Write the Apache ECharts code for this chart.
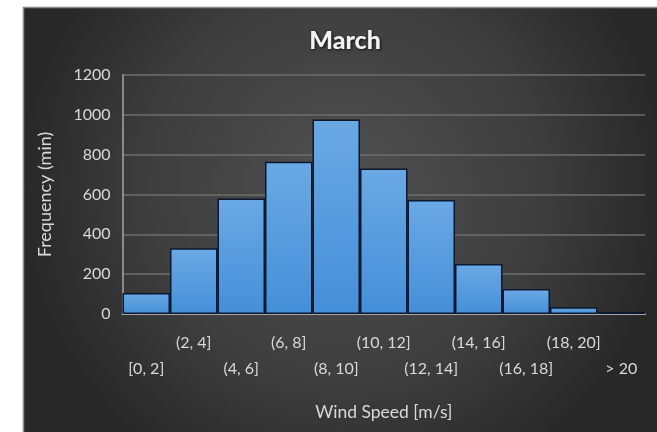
<!DOCTYPE html>
<html><head><meta charset="utf-8">
<script src="https://cdn.jsdelivr.net/npm/echarts@6/dist/echarts.min.js"></script>
<style>html,body{margin:0;padding:0;background:#fff;}#c{width:657px;height:432px;}</style>
</head><body><div id="c"></div>
<script>
const categories = ['[0, 2]','(2, 4]','(4, 6]','(6, 8]','(8, 10]','(10, 12]','(12, 14]','(14, 16]','(16, 18]','(18, 20]','> 20'];
const frequency = [105, 330, 580, 765, 977, 730, 572, 251, 125, 34, 10];
const yTicks = {min: 0, max: 1200, interval: 200};
const titleText = 'March';
const xName = 'Wind Speed [m/s]';
const yName = 'Frequency (min)';

const chart = echarts.init(document.getElementById('c'), null, {renderer: 'canvas'});
const font = 'Lato, "Open Sans", sans-serif';
chart.setOption({
  animation: false,
  graphic: [{
    type: 'rect', z: -10, silent: true,
    shape: {x: 23.5, y: 7.5, width: 640, height: 430},
    style: {
      fill: {type: 'radial', x: 0.5, y: 0.42, r: 0.75,
        colorStops: [{offset: 0, color: '#505050'}, {offset: 0.6, color: '#3e3e3e'}, {offset: 1, color: '#282828'}]},
      stroke: '#8a8a8a', lineWidth: 1.5
    }
  }],
  title: {
    text: titleText, left: 340, top: 23, textAlign: 'center',
    textStyle: {color: '#f2f2f2', fontFamily: font, fontWeight: 900, fontSize: 25,
      textShadowColor: 'rgba(0,0,0,0.8)', textShadowBlur: 3, textShadowOffsetX: 1, textShadowOffsetY: 1}
  },
  grid: {left: 122.5, right: 12, top: 75, bottom: 118},
  xAxis: {
    type: 'category', data: categories,
    name: xName, nameLocation: 'middle', nameGap: 89,
    nameTextStyle: {color: '#d9d9d9', fontFamily: font, fontSize: 17.5},
    axisLine: {show: true, lineStyle: {color: '#a6a6a6', width: 2}},
    axisTick: {show: false},
    axisLabel: {
      interval: 0, margin: 16, color: '#d9d9d9', fontFamily: font, fontSize: 16, lineHeight: 26,
      formatter: (v, i) => (i % 2 === 1 ? v : '\n' + v)
    }
  },
  yAxis: {
    type: 'value', min: yTicks.min, max: yTicks.max, interval: yTicks.interval,
    name: yName, nameLocation: 'middle', nameGap: 68, nameRotate: 90,
    nameTextStyle: {color: '#d9d9d9', fontFamily: font, fontSize: 18},
    axisLine: {show: true, lineStyle: {color: '#a6a6a6', width: 1.5}},
    axisTick: {show: false},
    axisLabel: {color: '#d9d9d9', fontFamily: font, fontSize: 16, margin: 12, formatter: v => String(v)},
    splitLine: {lineStyle: {color: '#6e6e6e', width: 1.5}}
  },
  series: [{
    type: 'bar', data: frequency, barCategoryGap: '0%',
    itemStyle: {
      color: {type: 'linear', x: 0, y: 0, x2: 0, y2: 1,
        colorStops: [{offset: 0, color: '#6aa9e4'}, {offset: 1, color: '#458fd8'}]},
      borderColor: '#0b1830', borderWidth: 1.5
    }
  }]
});
</script></body></html>
